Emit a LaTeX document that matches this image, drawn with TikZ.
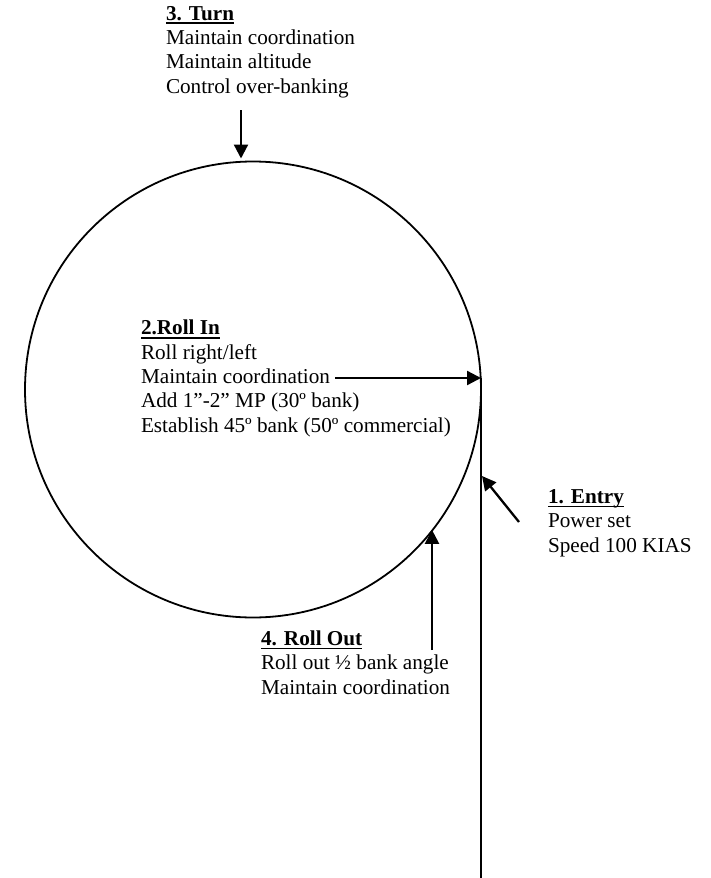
\documentclass[tikz,border=0pt]{standalone}
\usepackage{fontspec}
\setmainfont{Liberation Serif}
\usetikzlibrary{arrows.meta}
\newcommand{\myul}[1]{\setbox0\hbox{\textbf{#1}}\rlap{\rule[-1.9pt]{\wd0}{0.75pt}}\box0}
\begin{document}
\begin{tikzpicture}[x=0.5pt,y=-0.5pt,
  lbl/.style={anchor=base west, align=left, inner sep=0, outer sep=0, font=\fontsize{10.6}{12.15}\selectfont},
  arr/.style={line width=1.15pt, -{Triangle[length=7pt,width=7pt]}},
  ln/.style={line width=1.15pt}]
\useasboundingbox (0,0) rectangle (711,878);
\node[circle, draw, line width=0.9pt, minimum size=228pt, inner sep=0, outer sep=0] (c) at (253,389.5) {};
% base west of a multi-line node = baseline of its last line
\node[lbl] (turn) at (166,93) {\myul{3. Turn}\\Maintain coordination\\Maintain altitude\\Control over-banking};
\node[lbl] (rollin) at (141,432) {\myul{2.Roll In}\\Roll right/left\\Maintain coordination\\Add 1”-2” MP (30º bank)\\Establish 45º bank (50º commercial)};
\node[lbl] (entry) at (548,552) {\myul{1. Entry}\\Power set\\Speed 100 KIAS};
\node[lbl] (rollout) at (261,694) {\myul{4. Roll Out}\\Roll out ½ bank angle\\Maintain coordination};
\coordinate (tt) at (241,110);
\coordinate (mt) at (335,378);
\coordinate (vb) at (481,878);
\coordinate (et) at (519,522);
\coordinate (eh) at (482,476);
\coordinate (rt) at (432,650);
\draw[arr] (tt) -- ([yshift=1.5pt]tt |- c.north);
\draw[arr] (mt) -- (mt -| c.east);
\draw[ln] (c.east |- mt) -- (c.east |- vb);
\draw[arr] (et) -- (eh);
\draw[arr] (rt) -- (rt |- c.-38.3);
\end{tikzpicture}
\end{document}
